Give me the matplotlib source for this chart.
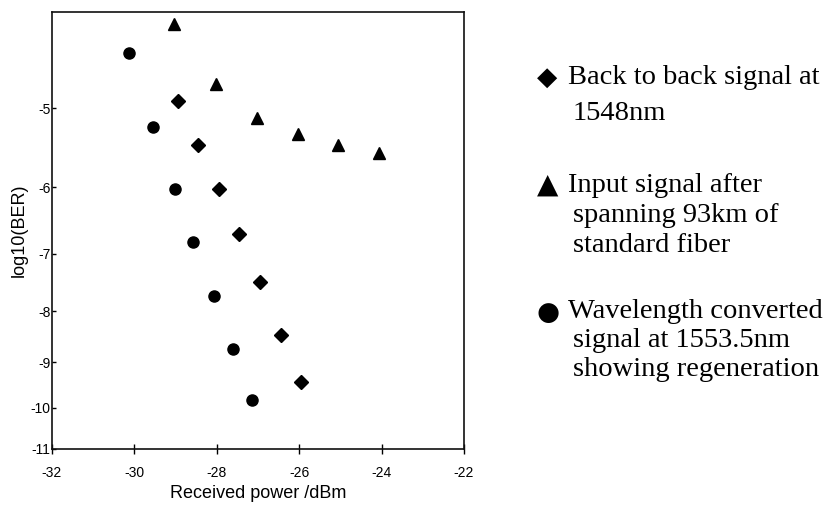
import numpy as np
import matplotlib
matplotlib.use('Agg')
import matplotlib.pyplot as plt

plt.rcParams['axes.unicode_minus'] = False
plt.rcParams['font.family'] = ['Liberation Sans', 'DejaVu Sans']

# Data (x: dBm, y: log10(BER))
b2b_x = [-28.95, -28.45, -27.95, -27.45, -26.95, -26.45, -25.95]
b2b_y = [-4.91, -5.44, -6.03, -6.68, -7.47, -8.44, -9.42]

fiber_x = [-29.05, -28.03, -27.03, -26.02, -25.05, -24.06]
fiber_y = [-4.11, -4.73, -5.11, -5.30, -5.44, -5.55]

conv_x = [-30.12, -29.56, -29.01, -28.57, -28.08, -27.61, -27.14]
conv_y = [-4.40, -5.22, -6.02, -6.82, -7.72, -8.72, -9.81]

x_ticks = [-32, -30, -28, -26, -24, -22]
y_ticks = [-11, -10, -9, -8, -7, -6, -5]

legend_lines = [
    ('\u25c6', ['Back to back signal at', '1548nm']),
    ('\u25b2', ['Input signal after', 'spanning 93km of', 'standard fiber']),
    ('\u25cf', ['Wavelength converted', 'signal at 1553.5nm', 'showing regeneration']),
]


# BER axis: linear in log(-log10(BER))
def fwd(y):
    return -np.log10(np.clip(-np.asarray(y, dtype=float), 1e-3, None))


def inv(f):
    return -10 ** (-np.asarray(f, dtype=float))


W, H = 833, 513
fig = plt.figure(figsize=(W / 100, H / 100), dpi=100)
ax = fig.add_axes([52 / W, 1 - 449 / H, (464 - 52) / W, (449 - 12) / H])

ax.plot(b2b_x, b2b_y, 'D', color='black', ms=7, ls='none')
ax.plot(fiber_x, fiber_y, '^', color='black', ms=8, ls='none')
ax.plot(conv_x, conv_y, 'o', color='black', ms=8, ls='none')

ax.set_yscale('function', functions=(fwd, inv))
ax.set_xlim(-32, -22)
ax.set_ylim(-11, -4)
ax.set_xticks(x_ticks)
ax.set_xticklabels([str(t) for t in x_ticks])
ax.set_yticks(y_ticks)
ax.set_yticklabels([str(t) for t in y_ticks])
ax.minorticks_off()

ax.tick_params(axis='x', direction='inout', length=7, width=1, labelsize=10, pad=9)
ax.tick_params(axis='y', direction='in', length=3, width=1, labelsize=10, pad=1)
for s in ax.spines.values():
    s.set_linewidth(1.2)
    s.set_color('#111111')

ax.set_xlabel('Received power /dBm', fontsize=13, labelpad=3)
ax.set_ylabel('log10(BER)', fontsize=13, labelpad=2)

# Legend drawn as text on the right
group_y = [84, 192, 318]
line_gap = [36, 30, 29]
sym_base = [85, 193, 320]
sym_size = [19, 20, 19]
for (sym, lines), y0, gap, sb, ss in zip(legend_lines, group_y, line_gap, sym_base, sym_size):
    fig.text(537 / W, 1 - sb / H, sym, fontsize=ss, family='DejaVu Sans',
             va='baseline', ha='left')
    for i, txt in enumerate(lines):
        xx = 568 if i == 0 else 573
        fig.text(xx / W, 1 - (y0 + i * gap) / H, txt, fontsize=20.5,
                 family='Liberation Serif', va='baseline', ha='left')

fig.savefig('out.png', dpi=100)
